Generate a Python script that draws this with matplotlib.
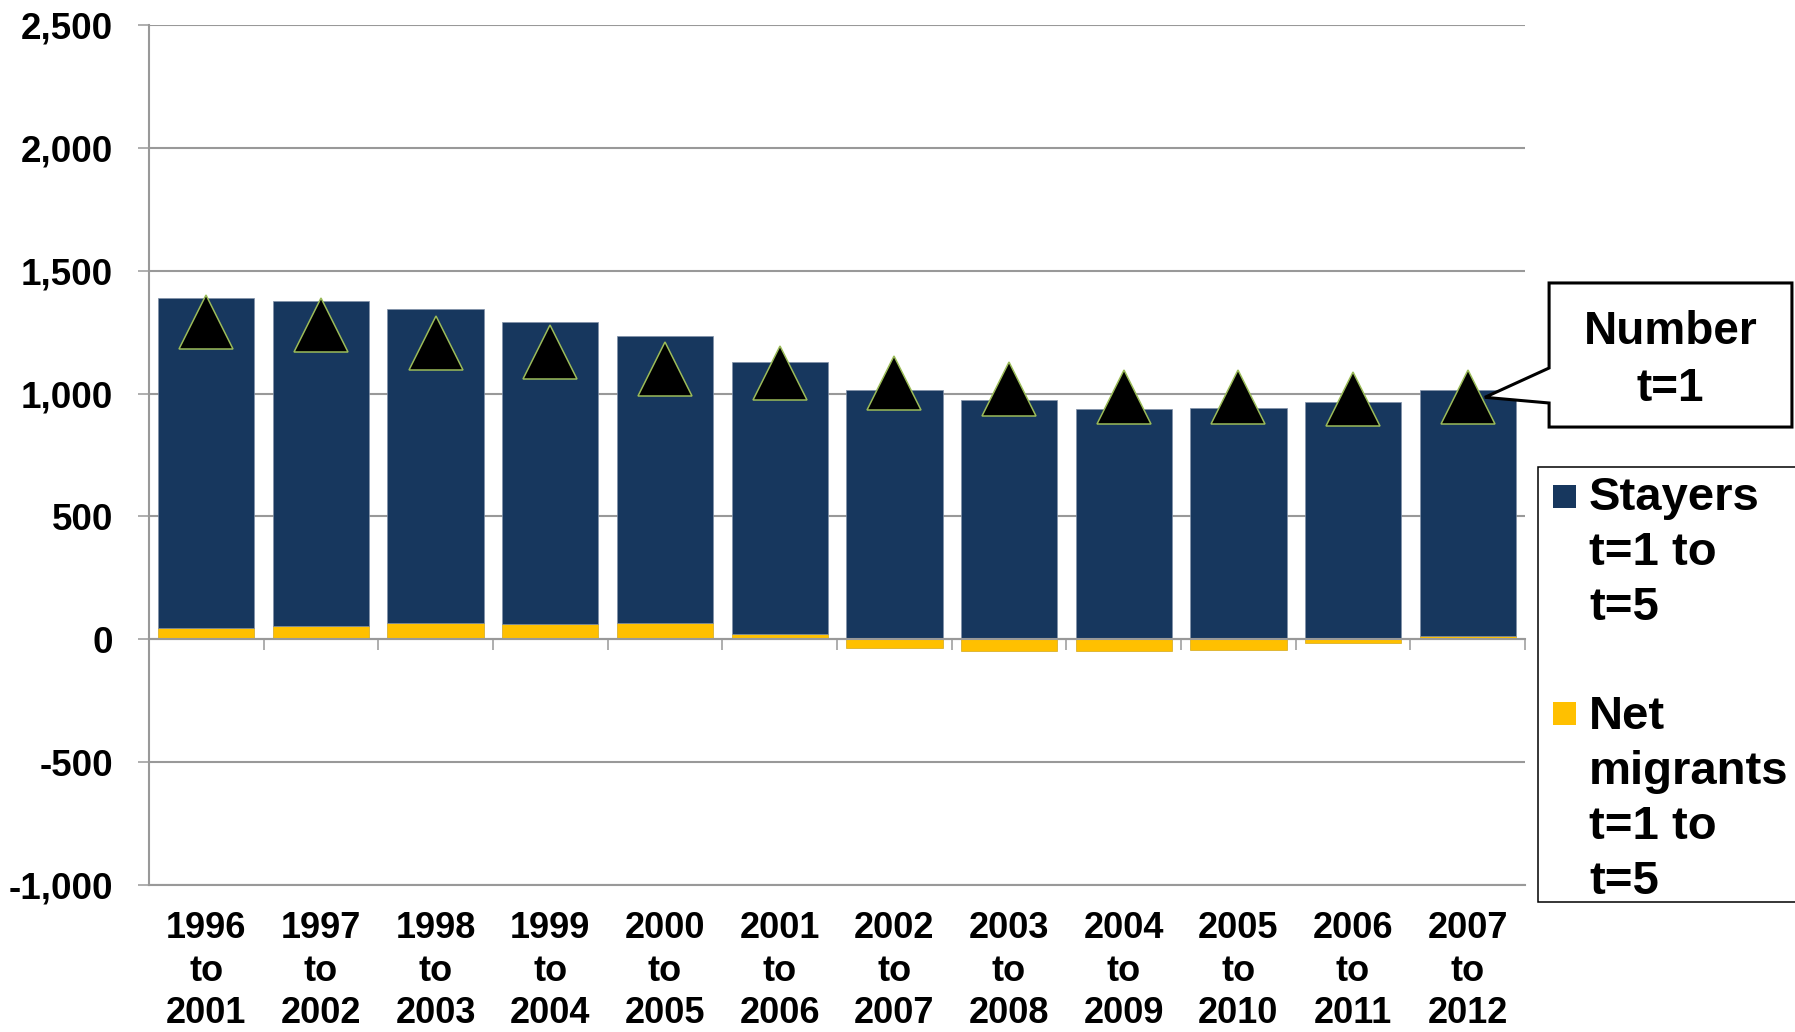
import numpy as np
import matplotlib
matplotlib.use("Agg")
import matplotlib.pyplot as plt
from matplotlib.patches import Polygon, Rectangle
from matplotlib.ticker import FuncFormatter

plt.rcParams['font.family'] = ['Liberation Sans', 'DejaVu Sans']
plt.rcParams['font.weight'] = 'bold'

# ---------------- DATA ---------------- #
periods = ["1996\nto\n2001", "1997\nto\n2002", "1998\nto\n2003", "1999\nto\n2004",
           "2000\nto\n2005", "2001\nto\n2006", "2002\nto\n2007", "2003\nto\n2008",
           "2004\nto\n2009", "2005\nto\n2010", "2006\nto\n2011", "2007\nto\n2012"]
stayers = [1344, 1325, 1280, 1232, 1169, 1104, 1015, 976, 936, 943, 964, 1000]
net_migrants = [47, 54, 66, 61, 66, 23, -37, -49, -49, -42, -16, 15]
number_t1 = [1291, 1278, 1206, 1168, 1102, 1083, 1043, 1018, 985, 985, 978, 985]
y_ticks = [-1000, -500, 0, 500, 1000, 1500, 2000, 2500]

NAVY = "#17375E"
GOLD = "#FFC000"
GREEN = "#9BBB59"
GRID = "#999999"

# ---------------- FIGURE ---------------- #
fig = plt.figure(figsize=(17.95, 10.32), dpi=100)
ax = fig.add_axes([0.0830, 0.1424, 0.7666, 0.8333])

x = np.arange(len(periods))
net = np.array(net_migrants)
stay_bottom = np.clip(net, 0, None)

ax.bar(x, net, width=0.84, color=GOLD, edgecolor="#C89A00", linewidth=0.4, zorder=2)
ax.bar(x, stayers, bottom=stay_bottom, width=0.84, color=NAVY,
       edgecolor="#8090A8", linewidth=0.5, zorder=2)
ax.plot(x, number_t1, linestyle="none", marker="^", ms=39, mfc="black",
        mec=GREEN, mew=1.1, zorder=4)

# axes styling
ax.set_xlim(-0.5, len(periods) - 0.5)
ax.set_ylim(y_ticks[0], y_ticks[-1])
ax.set_yticks(y_ticks)
ax.yaxis.set_major_formatter(FuncFormatter(lambda v, p: f"{v:,.0f}"))
ax.yaxis.grid(True, color=GRID, linewidth=1.5)
ax.set_axisbelow(True)
for side in ["top", "right"]:
    ax.spines[side].set_visible(False)
for side in ["left", "bottom"]:
    ax.spines[side].set_color(GRID)
    ax.spines[side].set_linewidth(1.5)
ax.tick_params(axis="y", length=8, width=1.1, color=GRID, pad=18, labelsize=26.5)
ax.set_xticks(x, periods)
ax.tick_params(axis="x", length=0, pad=19, labelsize=26)
for lab in ax.get_xticklabels():
    lab.set_linespacing(1.27)

# zero line with category separators
sec = ax.secondary_xaxis(0, transform=ax.transData)
sec.set_xticks(np.arange(len(periods) + 1) - 0.5)
sec.tick_params(axis="x", length=8, width=1.1, color=GRID, labelbottom=False)
sec.spines["bottom"].set_color(GRID)
sec.spines["bottom"].set_linewidth(1.5)
sec.set_zorder(3)

# ---------------- CALLOUT ---------------- #
fig.canvas.draw()
tip = fig.transFigure.inverted().transform(ax.transData.transform((x[-1] + 0.15, number_t1[-1])))
L, R, T, B = 0.8630, 0.9983, 0.7258, 0.5862
callout = Polygon([(L, T), (R, T), (R, B), (L, B), (L, 0.6095), tuple(tip), (L, 0.6434)],
                  closed=True, facecolor="white", edgecolor="black", linewidth=2.2,
                  transform=fig.transFigure, zorder=5)
fig.add_artist(callout)
fig.text((L + R) / 2, 0.6505, "Number\nt=1", ha="center", va="center",
         fontsize=33, linespacing=1.37, zorder=6)

# ---------------- LEGEND ---------------- #
fig.add_artist(Rectangle((0.8568, 0.1260), 0.2, 0.5475 - 0.1260, facecolor="white",
                         edgecolor="black", linewidth=1.1, transform=fig.transFigure))
fig.add_artist(Rectangle((0.8652, 0.5078), 0.0128, 0.0223, facecolor=NAVY,
                         edgecolor="none", transform=fig.transFigure))
fig.add_artist(Rectangle((0.8652, 0.2975), 0.0128, 0.0223, facecolor=GOLD,
                         edgecolor="none", transform=fig.transFigure))
fig.text(0.8852, 0.5388, "Stayers\nt=1 to\nt=5", ha="left", va="top",
         fontsize=34, linespacing=1.32)
fig.text(0.8852, 0.3266, "Net\nmigrants\nt=1 to\nt=5", ha="left", va="top",
         fontsize=34, linespacing=1.32)

fig.savefig("out.png", dpi=100)
